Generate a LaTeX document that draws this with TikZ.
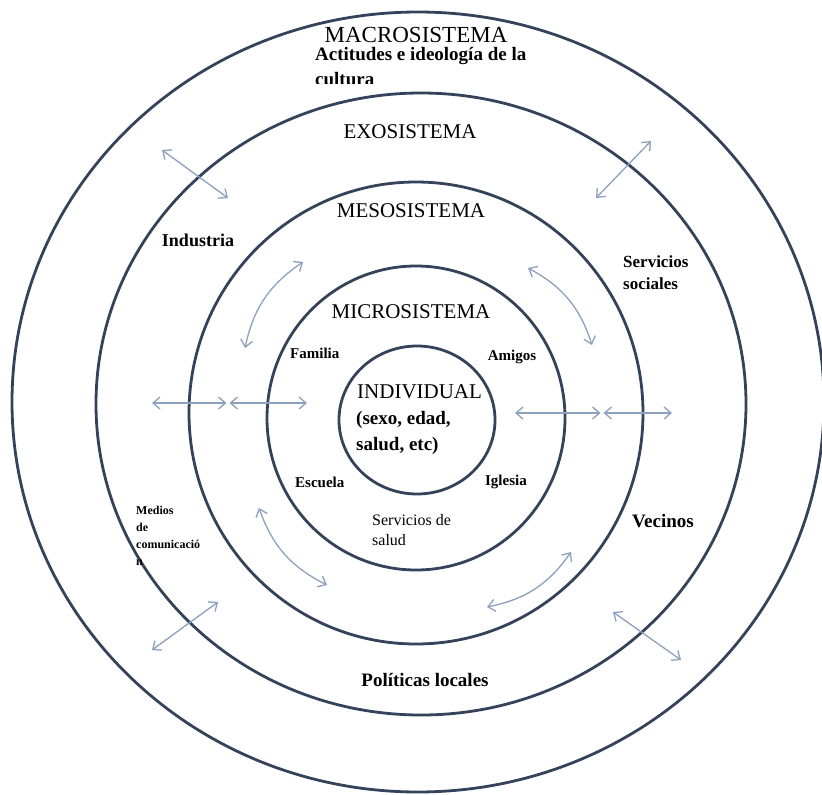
\documentclass[tikz,border=0pt]{standalone}
\usepackage{fontspec}
\setmainfont{Liberation Serif}
\usepackage{tikz}
\usetikzlibrary{arrows.meta}
\definecolor{ringcol}{HTML}{34435A}
\definecolor{linkcol}{HTML}{8CA1BE}

\begin{document}
\begin{tikzpicture}[x=1pt, y=-1pt,
      ring/.style = {line width=2.8pt, draw=ringcol, fill=white},
      link/.style = {{Straight Barb[length=7pt,width=12pt]}-{Straight Barb[length=7pt,width=12pt]}, line width=1.3pt, draw=linkcol},
      head/.style = {inner sep=0pt, font=\fontsize{21}{24}\selectfont},
      big/.style = {inner sep=0pt, font=\bfseries\fontsize{19}{22}\selectfont},
      small/.style = {inner sep=0pt, font=\bfseries\fontsize{15}{17}\selectfont}]
      \useasboundingbox (0,0) rectangle (822,795);
      \draw[ring] (418,402) ellipse [x radius=406, y radius=390];
      \node[head, font=\fontsize{23}{25}\selectfont] (macro) at (416,35) {MACROSISTEMA};
      \node[big, anchor=west] (actitudes) at (315,56) {Actitudes e ideología de la};
      \begin{scope}
            \clip (300,64) rectangle (420,83);
            \node[big, anchor=west] (cultura) at (315,79) {cultura};
      \end{scope}
      \draw[ring] (421,404) ellipse [x radius=325, y radius=311];
      \draw[ring] (416,413) ellipse [x radius=227, y radius=231];
      \draw[ring] (416,418) ellipse [x radius=149, y radius=152];
      \draw[ring] (417,420) ellipse [x radius=78, y radius=74];
      \node[head] (exo) at (410,132) {EXOSISTEMA};
      \node[head] (meso) at (411,211) {MESOSISTEMA};
      \node[head] (micro) at (411,312) {MICROSISTEMA};
      \node[head, anchor=west] (indiv) at (357,392) {INDIVIDUAL};
      \node[big, anchor=west] (sexo) at (356,420) {(sexo, edad,};
      \node[big, anchor=west] (salud) at (356,446) {salud, etc)};
      \node[small, anchor=west] (familia) at (290,353) {Familia};
      \node[small] (amigos) at (512,357) {Amigos};
      \node[small, anchor=west] (escuela) at (295,482) {Escuela};
      \node[small, anchor=east] (iglesia) at (527,482) {Iglesia};
      \node[small, anchor=north west, align=left, font=\fontsize{16}{20}\selectfont] (servsalud) at (372,514) {Servicios de\\salud};
      \node[big, font=\bfseries\fontsize{18}{20}\selectfont] (industria) at (198,240) {Industria};
      \node[big, anchor=north west, align=left, font=\bfseries\fontsize{17}{22}\selectfont] (servsoc) at (623,256) {Servicios\\sociales};
      \node[big] (vecinos) at (663,521) {Vecinos};
      \node[big] (politicas) at (425,680) {Políticas locales};
      \node[small, anchor=north west, align=left, font=\bfseries\fontsize{12}{17}\selectfont] (medios) at (136,506) {Medios\\de\\comunicació\\n};
      \coordinate (tl1) at (162,150); \coordinate (tl2) at (228,198);
      \coordinate (tr1) at (651,141); \coordinate (tr2) at (596,198);
      \coordinate (bl1) at (152,650); \coordinate (bl2) at (218,602);
      \coordinate (br1) at (613,612); \coordinate (br2) at (681,660);
      \coordinate (l1) at (152,403); \coordinate (l2) at (228,403); \coordinate (l3) at (307,403);
      \coordinate (r1) at (515,413); \coordinate (r2) at (602,413); \coordinate (r3) at (672,413);
      \coordinate (cul1) at (245,348); \coordinate (cul2) at (303,262);
      \coordinate (cur1) at (528,268); \coordinate (cur2) at (592,345);
      \coordinate (cdl1) at (259,508); \coordinate (cdl2) at (327,585);
      \coordinate (cdr1) at (571,552); \coordinate (cdr2) at (487,607);
      \draw[link] (tl1) -- (tl2);
      \draw[link] (tr1) -- (tr2);
      \draw[link] (bl1) -- (bl2);
      \draw[link] (br1) -- (br2);
      \draw[link] (l1) -- ([xshift=-1.5pt]l2);
      \draw[link] ([xshift=1.5pt]l2) -- (l3);
      \draw[link] (r1) -- ([xshift=-1.5pt]r2);
      \draw[link] ([xshift=1.5pt]r2) -- (r3);
      \draw[link] (cul1) to[bend left=22] (cul2);
      \draw[link] (cur1) to[bend left=22] (cur2);
      \draw[link] (cdl1) to[bend right=22] (cdl2);
      \draw[link] (cdr1) to[bend left=22] (cdr2);
\end{tikzpicture}
\end{document}
